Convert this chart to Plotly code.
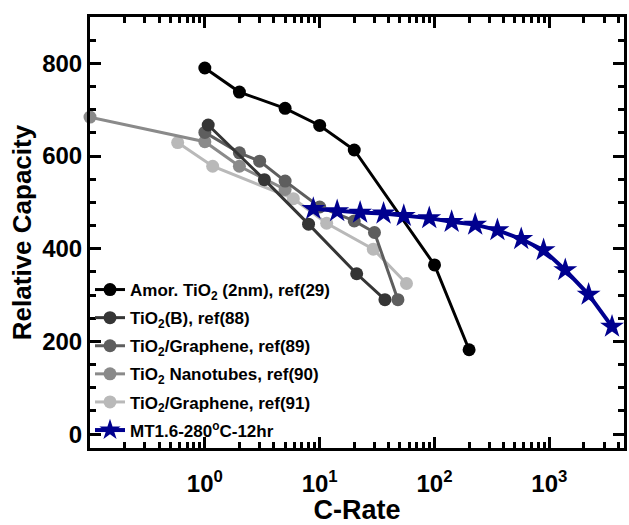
import plotly.graph_objects as go

# ---- data ----
amor_x = [1, 2, 5, 10, 20, 100, 200]
amor_y = [790, 738, 703, 666, 613, 365, 182]

tio2b_x = [1.07, 3.3, 8, 21, 37]
tio2b_y = [667, 549, 453, 346, 290]

gr89_x = [1, 2, 3, 5, 10, 20, 30, 48]
gr89_y = [651, 607, 589, 546, 490, 460, 435, 290]

nt90_x = [0.1, 1, 2, 5]
nt90_y = [684, 631, 578, 528]

gr91_x = [0.58, 1.17, 5.9, 11.5, 29.3, 57]
gr91_y = [629, 578, 508, 455, 399, 325]

mt_x = [8.8, 14.2, 22.5, 36, 54, 90, 141, 226, 353, 569, 891, 1376, 2198, 3513]
mt_y = [486, 481, 478, 476, 471, 466, 458, 452, 440, 421, 397, 354, 301, 232]

names = [
    "Amor. TiO<sub>2</sub> (2nm), ref(29)",
    "TiO<sub>2</sub>(B), ref(88)",
    "TiO<sub>2</sub>/Graphene, ref(89)",
    "TiO<sub>2</sub> Nanotubes, ref(90)",
    "TiO<sub>2</sub>/Graphene, ref(91)",
    "MT1.6-280<sup>o</sup>C-12hr",
]

x_tickvals = [1, 10, 100, 1000]
x_ticktext = ["10<sup>0</sup>", "10<sup>1</sup>", "10<sup>2</sup>", "10<sup>3</sup>"]
y_tickvals = [0, 200, 400, 600, 800]
y_ticktext = ["0", "200", "400", "600", "800"]

colors = ["#000000", "#353535", "#5e5e5e", "#8a8a8a", "#b9b9b9"]
FONT = "Liberation Sans, Arial, sans-serif"

fig = go.Figure()
series = [(amor_x, amor_y), (tio2b_x, tio2b_y), (gr89_x, gr89_y),
          (nt90_x, nt90_y), (gr91_x, gr91_y)]
order = [4, 3, 2, 1, 0]
traces = []
for i, (xs, ys) in enumerate(series):
    traces.append(go.Scatter(
        x=xs, y=ys, mode="lines+markers", name=names[i],
        legendgroup=f"g{i}", legendrank=i + 1,
        line=dict(color=colors[i], width=3),
        marker=dict(symbol="circle", size=13, color=colors[i]),
        cliponaxis=False,
    ))
for i in order:
    fig.add_trace(traces[i])
fig.add_trace(go.Scatter(
    x=mt_x, y=mt_y, mode="lines+markers", name=names[5],
    legendgroup="g5", legendrank=6,
    line=dict(color="#00008f", width=4),
    marker=dict(symbol="star", size=18, color="#00008f"),
))

minor_x = [k * 10 ** d for d in range(-1, 4) for k in range(2, 10)]

fig.update_layout(
    width=629, height=525,
    margin=dict(l=90, r=5, t=17, b=77, autoexpand=False),
    paper_bgcolor="white", plot_bgcolor="white",
    font=dict(family=FONT, color="black", weight="bold"),
    showlegend=True,
    legend=dict(
        x=0.0, y=0.0, xanchor="left", yanchor="bottom",
        bgcolor="rgba(0,0,0,0)", borderwidth=0,
        font=dict(size=17, family=FONT, weight="bold", color="black"),
        tracegroupgap=3, itemwidth=30,
    ),
    xaxis=dict(
        type="log", range=[-1, 3.65], automargin=False,
        tickmode="array", tickvals=x_tickvals, ticktext=x_ticktext,
        ticks="inside", ticklen=11, tickwidth=2.5, tickcolor="black",
        minor=dict(tickvals=minor_x, ticks="inside", ticklen=6, tickwidth=2.5, tickcolor="black"),
        showline=True, linewidth=3, linecolor="black", mirror="allticks",
        showgrid=False, zeroline=False,
        tickfont=dict(size=24, family=FONT, weight="bold"),
        ticklabelstandoff=12,
        title=dict(text="C-Rate", font=dict(size=27, family=FONT, weight="bold"), standoff=8),
    ),
    yaxis=dict(
        range=[-30, 900], automargin=False,
        tickmode="array", tickvals=y_tickvals, ticktext=y_ticktext,
        ticks="inside", ticklen=11, tickwidth=2.5, tickcolor="black",
        minor=dict(dtick=50, tick0=0, ticks="inside", ticklen=6, tickwidth=2.5, tickcolor="black"),
        showline=True, linewidth=3, linecolor="black", mirror="allticks",
        showgrid=False, zeroline=False,
        tickfont=dict(size=24, family=FONT, weight="bold"),
        title=dict(text="Relative Capacity", font=dict(size=26, family=FONT, weight="bold"), standoff=4),
    ),
)

fig.write_html("out.html")
